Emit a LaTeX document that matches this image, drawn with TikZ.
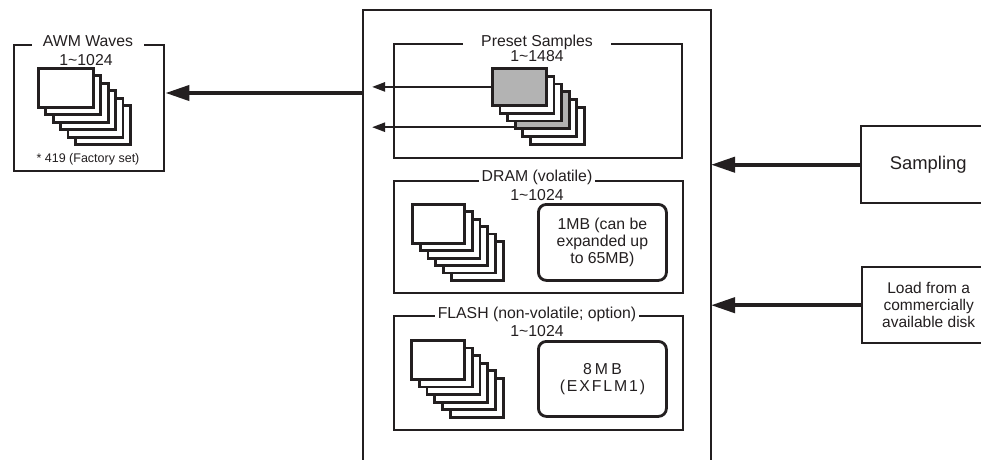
\documentclass[tikz,border=0pt]{standalone}
\usepackage{fontspec}
\setmainfont{Liberation Sans}
\usetikzlibrary{arrows.meta,calc}
\definecolor{ink}{HTML}{231F20}
\definecolor{cardgray}{HTML}{B3B3B3}
\begin{document}
\begin{tikzpicture}[x=1pt,y=-1pt,
  every node/.style={font=\fontsize{15.8}{17}\selectfont, text=ink},
  frame/.style={draw=ink, line width=2.4pt, inner sep=0pt, anchor=north west, align=center},
  card/.style={draw=ink, line width=2.8pt, fill=white, inner sep=0pt, anchor=north west},
  memo/.style={draw=ink, line width=2.8pt, rounded corners=8pt, inner sep=0pt, anchor=north west, align=center, minimum width=128},
  title/.style={fill=white, anchor=base, inner ysep=1pt},
  lbl/.style={anchor=base, inner sep=0pt},
  bigarrow/.style={draw=ink, line width=4pt, -{Triangle[length=24pt,width=15pt]}},
  smallarrow/.style={draw=ink, line width=2.3pt, -{Triangle[length=13pt,width=9pt]}},
]
\clip (0,0) rectangle (981,459);
\fill[white] (0,0) rectangle (981,459);

% main storage frame (open at the bottom)
\node[inner sep=0pt, outer sep=0pt, anchor=north west, minimum width=348, minimum height=460] (main) at (363,10) {};
\draw[ink, line width=2.4pt] (main.south west) -- (main.north west) -- (main.north east) -- (main.south east);

% inner boxes
\node[frame, minimum width=150, minimum height=126] (awm) at (13,44) {};
\node[frame, minimum width=288, minimum height=114] (preset) at (393,43) {};
\node[frame, minimum width=289, minimum height=112] (dram) at (393,180) {};
\node[frame, minimum width=289, minimum height=114] (flash) at (393,315) {};

% right side sources
\node[frame, minimum width=134, minimum height=77, font=\fontsize{18.4}{20}\selectfont] (samp) at (860,125) {Sampling};
\node[frame, minimum width=133, minimum height=76, font=\fontsize{15.5}{17}\selectfont] (load) at (861,266) {Load from a\\commercially\\available disk};

% titles
\node[title, inner xsep=11pt] (awmt) at (88,46) {AWM Waves};
\node[lbl] (awmn) at (86,65) {1\textasciitilde1024};
\node[lbl, font=\fontsize{12.5}{14}\selectfont] (awmf) at (88,162) {* 419 (Factory set)};

\node[title, inner xsep=18pt] (prt) at (537,46) {Preset Samples};
\node[lbl] (prn) at (537,61) {1\textasciitilde1484};

\node[title, inner xsep=2.5pt] (drt) at (537,181) {DRAM (volatile)};
\node[lbl] (drn) at (537,200) {1\textasciitilde1024};

\node[title, inner xsep=2.5pt] (flt) at (537,318) {FLASH (non-volatile; option)};
\node[lbl] (fln) at (537,336) {1\textasciitilde1024};

% card stacks
\foreach \i in {5,4,3,2,1,0}
  \node[card, minimum width=55, minimum height=39] (a\i) at ({37+7.4*\i},{67+7.45*\i}) {};
\foreach \i/\f in {5/white,4/white,3/cardgray,2/white,1/white,0/cardgray}
  \node[card, fill=\f, minimum width=54, minimum height=37] (p\i) at ({491+7.6*\i},{67+7.8*\i}) {};
\foreach \i in {5,4,3,2,1,0}
  \node[card, minimum width=52, minimum height=39] (d\i) at ({411+7.8*\i},{203+7.4*\i}) {};
\foreach \i in {5,4,3,2,1,0}
  \node[card, minimum width=53, minimum height=39] (f\i) at ({410+7.8*\i},{339+7.6*\i}) {};

% memory size boxes
\node[memo, minimum height=76] (dmem) at (537,203) {1MB (can be\\expanded up\\to 65MB)};
\node[memo, minimum height=75] (fmem) at (537,340) {{\addfontfeatures{LetterSpace=20}8MB}\\{\addfontfeatures{LetterSpace=12}(EXFLM1)}};

% arrows
\coordinate (mL) at (363,93);
\draw[bigarrow] (mL) -- (mL -| awm.east);
\draw[bigarrow] (samp.west) -- (samp.west -| main.east);
\draw[bigarrow] (load.west) -- (load.west -| main.east);
\coordinate (tipx) at (372,0);
\draw[smallarrow] (p0.west) -- (p0.west -| tipx);
\coordinate (p3a) at ($(p3.south west)+(0,-3)$);
\draw[smallarrow] (p3a) -- (p3a -| tipx);
\end{tikzpicture}
\end{document}
